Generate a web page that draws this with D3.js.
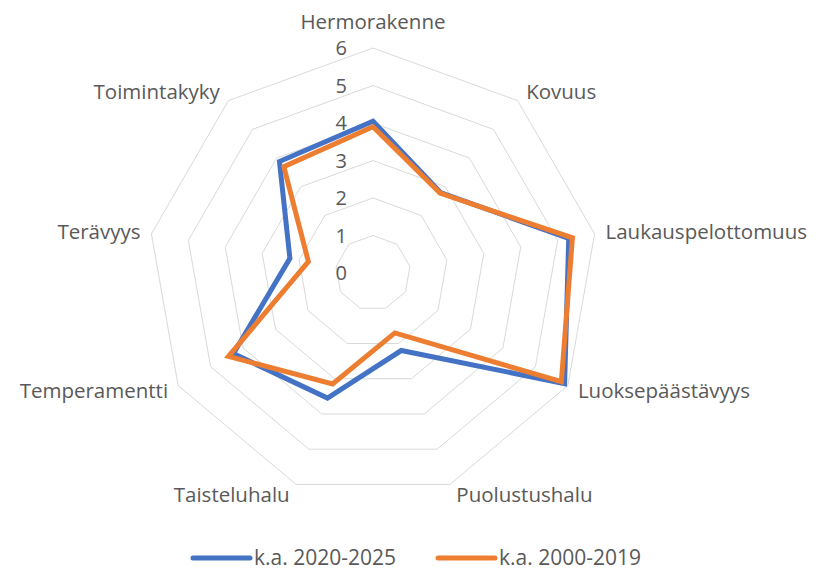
<!DOCTYPE html>
<html lang="fi">
<head>
  <meta charset="UTF-8">
  <title>Radar chart</title>
  <script src="https://cdnjs.cloudflare.com/ajax/libs/d3/7.8.5/d3.min.js"></script>
  <style>
    body { margin: 0; background: #fff; }
    svg text { font-family: "Open Sans", "Noto Sans", sans-serif; fill: #595959; }
  </style>
</head>
<body>
  <div id="chart"></div>
  <script>
    // data
    const categories = ["Hermorakenne", "Kovuus", "Laukauspelottomuus", "Luoksepäästävyys",
      "Puolustushalu", "Taisteluhalu", "Temperamentti", "Terävyys", "Toimintakyky"];
    const seriesNames = ["k.a. 2020-2025", "k.a. 2000-2019"];
    const values2020 = [4.05, 2.8, 5.3, 5.9, 2.2, 3.55, 4.3, 2.25, 3.88];
    const values2000 = [3.9, 2.78, 5.4, 5.8, 1.7, 3.15, 4.45, 1.75, 3.7];
    const tickValues = [0, 1, 2, 3, 4, 5, 6];
    const colors = ["#4472C4", "#ED7D31"];

    const W = 815, H = 577;
    const cx = 373, cy = 273;

    const svg = d3.select("#chart").append("svg")
      .attr("width", W).attr("height", H);

    const r = d3.scaleLinear().domain([0, 6]).range([0, 225]);
    const angle = d3.scaleLinear().domain([0, categories.length]).range([0, 2 * Math.PI]);

    const g = svg.append("g").attr("transform", `translate(${cx},${cy})`);

    const pt = (i, v) => [r(v) * Math.sin(angle(i)), -r(v) * Math.cos(angle(i))];

    // grid rings
    tickValues.filter(t => t > 0).forEach(t => {
      g.append("polygon")
        .attr("points", categories.map((c, i) => pt(i, t).join(",")).join(" "))
        .attr("fill", "none")
        .attr("stroke", "#d9d9d9")
        .attr("stroke-width", 1);
    });

    // tick labels
    g.selectAll(".tick").data(tickValues).enter().append("text")
      .attr("x", -26)
      .attr("y", d => -r(d))
      .attr("dy", "0.35em")
      .attr("text-anchor", "end")
      .style("font-size", "20px")
      .text(d => d);

    // series
    const line = d3.line().curve(d3.curveLinearClosed);
    [values2020, values2000].forEach((vals, s) => {
      g.append("path")
        .attr("d", line(vals.map((v, i) => pt(i, v))))
        .attr("fill", "none")
        .attr("stroke", colors[s])
        .attr("stroke-width", 5)
        .attr("stroke-linejoin", "miter");
    });

    // category labels
    categories.forEach((c, i) => {
      const [x, y] = pt(i, 6);
      const a = angle(i);
      const sx = Math.sin(a), cs = Math.cos(a);
      let anchor = "middle", dx = 0, dy = 0;
      if (Math.abs(sx) < 0.01) { dy = -26; }
      else {
        anchor = sx > 0 ? "start" : "end";
        dx = Math.sign(sx) * (4 + 7 * Math.abs(sx));
        dy = -11 * cs;
      }
      g.append("text")
        .attr("x", x + dx)
        .attr("y", y + dy)
        .attr("dy", "0.35em")
        .attr("text-anchor", anchor)
        .style("font-size", "20.5px")
        .text(c);
    });

    // legend
    const legend = svg.append("g").attr("transform", "translate(193,558)");
    seriesNames.forEach((name, s) => {
      const lg = legend.append("g").attr("transform", `translate(${s * 245},0)`);
      lg.append("line")
        .attr("x1", 0).attr("x2", 57)
        .attr("stroke", colors[s])
        .attr("stroke-width", 5)
        .attr("stroke-linecap", "round");
      lg.append("text")
        .attr("x", 61)
        .attr("dy", "0.35em")
        .style("font-size", "21px")
        .text(name);
    });
  </script>
</body>
</html>
